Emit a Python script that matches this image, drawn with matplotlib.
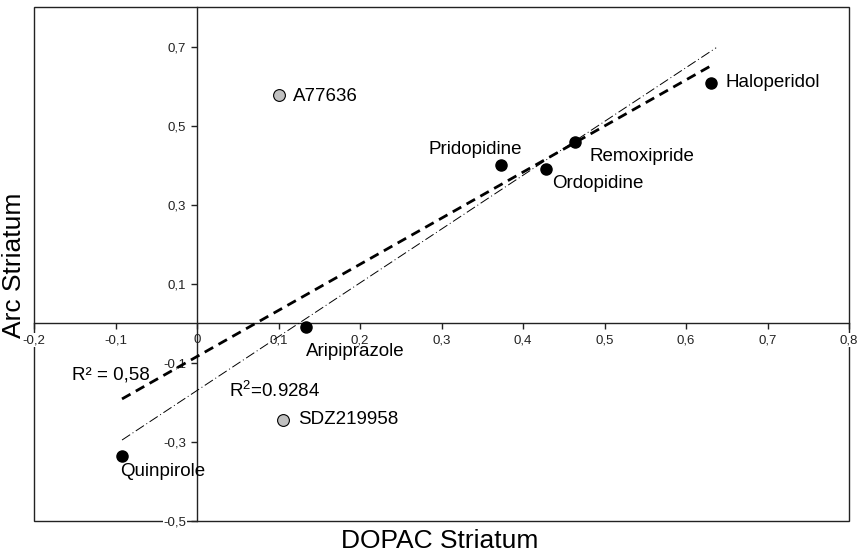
import matplotlib
matplotlib.use("Agg")
import matplotlib.pyplot as plt
from matplotlib.patches import Rectangle
import numpy as np

plt.rcParams['font.family'] = ['Liberation Sans', 'DejaVu Sans']
plt.rcParams['mathtext.fontset'] = 'custom'
plt.rcParams['mathtext.rm'] = 'Liberation Sans'
plt.rcParams['mathtext.it'] = 'Liberation Sans'

# ---- data ----
black_names = ["Quinpirole", "Aripiprazole", "Pridopidine", "Ordopidine", "Remoxipride", "Haloperidol"]
black_x = [-0.092, 0.134, 0.373, 0.428, 0.464, 0.631]
black_y = [-0.335, -0.009, 0.401, 0.391, 0.459, 0.609]

gray_names = ["A77636", "SDZ219958"]
gray_x = [0.100, 0.106]
gray_y = [0.578, -0.244]

# trend lines
dash_slope, dash_intercept = 1.166, -0.084
dash_xrange = [-0.092, 0.631]
dashdot_slope, dashdot_intercept = 1.361, -0.170
dashdot_xrange = [-0.092, 0.637]

xticks = [-0.2, -0.1, 0.0, 0.1, 0.2, 0.3, 0.4, 0.5, 0.6, 0.7, 0.8]
xticklabels = ["-0,2", "-0,1", "0", "0,1", "0,2", "0,3", "0,4", "0,5", "0,6", "0,7", "0,8"]
yticks = [0.7, 0.5, 0.3, 0.1, -0.1, -0.3, -0.5]
yticklabels = ["0,7", "0,5", "0,3", "0,1", "-0,1", "-0,3", "-0,5"]

# label positions
label_pos = {
    "A77636": (0.118, 0.573, 'left', 'center'),
    "Haloperidol": (0.649, 0.609, 'left', 'center'),
    "Pridopidine": (0.342, 0.439, 'center', 'center'),
    "Remoxipride": (0.482, 0.421, 'left', 'center'),
    "Ordopidine": (0.436, 0.353, 'left', 'center'),
    "Aripiprazole": (0.134, -0.072, 'left', 'center'),
    "SDZ219958": (0.124, -0.244, 'left', 'center'),
    "Quinpirole": (-0.094, -0.376, 'left', 'center'),
}

fig = plt.figure(figsize=(8.6, 5.53), dpi=100)
ax = fig.add_axes([34/860, 1-521/553, (849-34)/860, (521-7)/553])
ax.set_xlim(-0.2, 0.8)
ax.set_ylim(-0.5, 0.8)

# spines through origin
for s in ['top', 'right']:
    ax.spines[s].set_visible(False)
ax.spines['left'].set_position(('data', 0))
ax.spines['bottom'].set_position(('data', 0))
for s in ['left', 'bottom']:
    ax.spines[s].set_color('#222222')
    ax.spines[s].set_linewidth(1.0)
ax.add_patch(Rectangle((0, 0), 1, 1, transform=ax.transAxes, fill=False,
                       edgecolor='#222222', linewidth=1.0, clip_on=False, zorder=1))

ax.set_xticks(xticks)
ax.set_xticklabels(xticklabels)
ax.set_yticks(yticks)
ax.set_yticklabels(yticklabels)
ax.tick_params(axis='both', direction='out', length=4.2, width=1, color='#222222',
               labelsize=9.5, labelcolor='#222222', pad=3.5)
for lbl in ax.get_xticklabels() + ax.get_yticklabels():
    lbl.set_bbox(dict(facecolor='white', edgecolor='none', pad=0.6))

# trend lines
xd = np.array(dash_xrange)
ax.plot(xd, dash_slope * xd + dash_intercept, color='black', lw=2.0,
        linestyle=(0, (3.5, 2.2)), zorder=4)
xdd = np.array(dashdot_xrange)
ax.plot(xdd, dashdot_slope * xdd + dashdot_intercept, color='black', lw=0.7,
        linestyle=(0, (10, 3, 1, 3)), zorder=4)

ax.plot(black_x, black_y, 'o', color='black', markersize=8, zorder=5)
ax.plot(gray_x, gray_y, 'o', markerfacecolor='#c0c0c0', markeredgecolor='black',
        markeredgewidth=0.8, markersize=8.5, zorder=5)

for name, (tx, ty, ha, va) in label_pos.items():
    ax.text(tx, ty, name, fontsize=13.5, ha=ha, va=va, color='black', zorder=6)

ax.text(-0.153, -0.130, "R² = 0,58", fontsize=13.5, ha='left', va='center', zorder=6)
ax.text(0.039, -0.171, r"R$^{2}$=0.9284", fontsize=13.5, ha='left', va='center', zorder=6)

fig.text(440/860, 1-541/553, "DOPAC Striatum", fontsize=19, ha='center', va='center')
fig.text(14/860, 1-265/553, "Arc Striatum", fontsize=19, ha='center', va='center',
         rotation=90)

fig.savefig("out.png", dpi=100)
